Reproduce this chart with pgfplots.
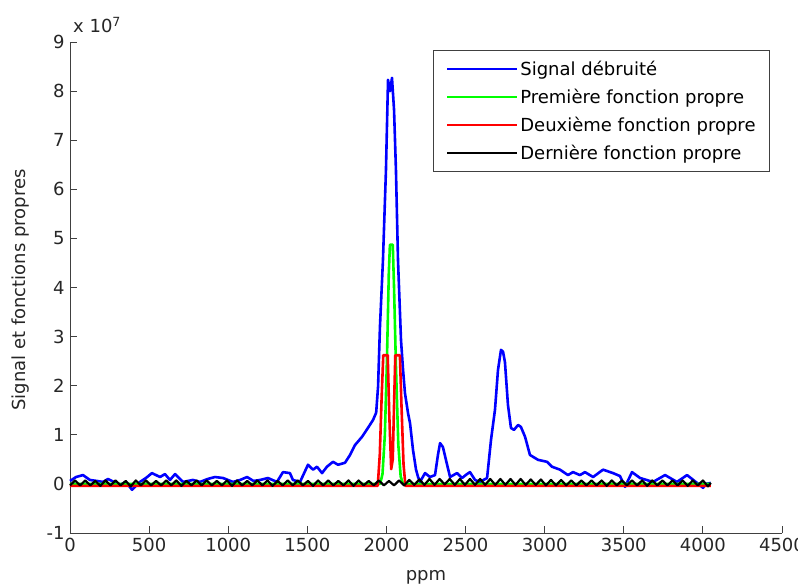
\documentclass[border=0pt]{standalone}
\usepackage{fontspec}
\setmainfont{DejaVu Sans}
\usepackage{pgfplots}
\pgfplotsset{compat=1.18}
\definecolor{mblue}{rgb}{0,0,1}
\definecolor{mgreen}{rgb}{0,1,0}
\definecolor{mred}{rgb}{1,0,0}
\definecolor{axgray}{rgb}{0.25,0.25,0.25}
\newcommand{\fs}{\fontsize{18}{21}\selectfont}
\begin{document}
\begin{tikzpicture}[x=1pt,y=1pt]
\path[use as bounding box] (-70,-54) rectangle (728,533);
\begin{axis}[
  at={(0,0)}, anchor=south west,
  scale only axis, width=712pt, height=491pt,
  xmin=0, xmax=4500, ymin=-1, ymax=9,
  axis x line=bottom, axis y line=left,
  axis line style={-, axgray, line width=0.9pt},
  tick style={axgray, line width=0.9pt},
  tick align=inside, major tick length=7pt,
  xtick={0,500,...,4500}, ytick={-1,0,...,9},
  /pgf/number format/1000 sep={},
  /pgf/number format/assume math mode=true,
  ticklabel style={font=\fs, text=black!85},
  xticklabel style={yshift=-2pt},
  yticklabel style={xshift=-2pt},
  xlabel={ppm}, ylabel={Signal et fonctions propres},
  label style={font=\fs, text=black!85},
  xlabel style={at={(rel axis cs:0.5,0)}, anchor=center, yshift=-44pt},
  ylabel style={at={(axis description cs:-0.07,0.495)}, anchor=center},
  legend style={at={(1,1)}, xshift=-12pt, yshift=-8pt, anchor=north east,
    font=\fs, draw=axgray, line width=0.9pt, inner xsep=12pt, inner ysep=8.5pt,
    row sep=8.2pt, cells={anchor=west}},
  legend cell align=left,
  legend image code/.code={\draw[#1, line width=2.2pt] (0pt,0pt) -- (60pt,0pt); \path (0pt,0pt) -- (70pt,0pt);},
  clip=false,
]
\addplot[mblue, line width=2.6pt, line join=round] coordinates {
(0,0.06)(38,0.14)(82,0.18)(126,0.08)(170,0.06)(209,0.04)(240,0.10)(316,-0.02)(354,0.04)(392,-0.12)(442,0.04)(480,0.12)(518,0.22)(569,0.14)(600,0.20)(632,0.08)(664,0.20)(714,0.04)(777,0.08)(822,0.04)(870,0.10)(916,0.14)(967,0.12)(1030,0.04)(1075,0.08)(1119,0.14)(1160,0.06)(1201,0.08)(1251,0.12)(1308,0.04)(1346,0.24)(1390,0.22)(1409,0.08)(1454,0.04)(1504,0.39)(1536,0.29)(1561,0.35)(1593,0.22)(1624,0.35)(1662,0.45)(1694,0.39)(1738,0.43)(1770,0.59)(1801,0.79)(1846,0.96)(1883,1.14)(1915,1.30)(1935,1.45)(1947,1.98)(1959,3.20)(1978,4.56)(1997,6.40)(2010,8.23)(2023,8.00)(2035,8.27)(2048,7.62)(2060,6.40)(2073,4.56)(2092,2.93)(2105,2.32)(2117,1.85)(2136,1.45)(2149,1.24)(2168,0.69)(2187,0.29)(2200,0.14)(2212,0.04)(2244,0.22)(2275,0.14)(2307,0.18)(2326,0.60)(2339,0.83)(2357,0.75)(2376,0.49)(2402,0.14)(2446,0.22)(2478,0.12)(2509,0.20)(2528,0.24)(2560,0.08)(2591,0.04)(2636,0.12)(2661,0.90)(2686,1.51)(2705,2.32)(2724,2.73)(2737,2.69)(2749,2.48)(2768,1.61)(2787,1.14)(2806,1.10)(2832,1.20)(2850,1.16)(2876,0.96)(2907,0.59)(2958,0.49)(3015,0.45)(3046,0.35)(3097,0.29)(3147,0.18)(3179,0.24)(3223,0.18)(3255,0.24)(3306,0.14)(3369,0.29)(3432,0.22)(3476,0.16)(3508,-0.06)(3552,0.24)(3603,0.12)(3685,0.04)(3761,0.18)(3836,0.04)(3900,0.18)(3963,0.02)(4001,-0.08)(4020,0.00)(4050,0.02)
};
\addlegendentry{Signal débruité}
\addplot[mgreen, line width=2.6pt, line join=round] coordinates {
(0,0)(1960,0)(1975,0.2)(1990,1.0)(2003,2.5)(2015,4.3)(2022,4.87)(2040,4.87)(2048,4.0)(2060,2.4)(2075,0.8)(2090,0.15)(2105,0)(4050,0)
};
\addlegendentry{Première fonction propre}
\addplot[mred, line width=2.6pt, line join=round] coordinates {
(0,-0.04)(1000,-0.04)(1945,-0.04)(1958,0.6)(1970,1.8)(1980,2.62)(2008,2.62)(2018,1.4)(2030,0.3)(2040,0.5)(2048,1.6)(2056,2.62)(2085,2.62)(2095,1.6)(2108,0.4)(2120,-0.04)(3000,-0.04)(4050,-0.04)
};
\addlegendentry{Deuxième fonction propre}
\addplot[black, line width=2.2pt, line join=round] coordinates {
(0,-0.03)(32,0.07)(64,-0.03)(96,0.07)(128,-0.03)(160,0.06)(192,-0.04)(224,0.07)(256,-0.03)(288,0.07)(320,-0.03)(352,0.06)(384,-0.05)(416,0.07)(448,-0.03)(480,0.07)(512,-0.03)(544,0.06)(576,-0.03)(608,0.07)(640,-0.03)(672,0.07)(704,-0.04)(736,0.06)(768,-0.03)(800,0.07)(832,-0.03)(864,0.07)(896,-0.03)(928,0.06)(960,-0.03)(992,0.07)(1024,-0.04)(1056,0.07)(1088,-0.03)(1120,0.06)(1152,-0.03)(1184,0.07)(1216,-0.03)(1248,0.07)(1280,-0.04)(1312,0.06)(1344,-0.03)(1376,0.07)(1408,-0.03)(1440,0.07)(1472,-0.03)(1504,0.06)(1536,-0.04)(1568,0.07)(1600,-0.03)(1632,0.07)(1664,-0.03)(1696,0.06)(1728,-0.03)(1760,0.07)(1792,-0.04)(1824,0.07)(1856,-0.03)(1888,0.06)(1920,-0.03)(1952,0.07)(1984,-0.03)(2016,0.06)(2048,-0.03)(2080,0.07)(2112,-0.03)(2144,0.08)(2176,-0.02)(2208,0.09)(2240,-0.02)(2272,0.10)(2304,-0.02)(2336,0.10)(2368,-0.01)(2400,0.10)(2432,-0.02)(2464,0.10)(2496,-0.02)(2528,0.10)(2560,-0.02)(2592,0.10)(2624,-0.02)(2656,0.10)(2688,-0.02)(2720,0.10)(2752,-0.02)(2784,0.10)(2816,-0.02)(2848,0.10)(2880,-0.02)(2912,0.09)(2944,-0.02)(2976,0.09)(3008,-0.03)(3040,0.08)(3072,-0.03)(3104,0.08)(3136,-0.03)(3168,0.07)(3200,-0.03)(3232,0.07)(3264,-0.03)(3296,0.07)(3328,-0.03)(3360,0.07)(3392,-0.04)(3424,0.07)(3456,-0.03)(3488,0.07)(3520,-0.03)(3552,0.07)(3584,-0.03)(3616,0.07)(3648,-0.04)(3680,0.07)(3712,-0.03)(3744,0.07)(3776,-0.03)(3808,0.07)(3840,-0.03)(3872,0.07)(3904,-0.04)(3936,0.07)(3968,-0.03)(4000,0.07)(4032,-0.05)(4050,0.02)
};
\addlegendentry{Dernière fonction propre}
\node[anchor=south west, font=\fs, text=black!85, inner sep=0pt] at (rel axis cs:0,1) [xshift=3pt, yshift=9pt] {x 10$^{\mathrm{7}}$};
\end{axis}
\end{tikzpicture}
\end{document}
